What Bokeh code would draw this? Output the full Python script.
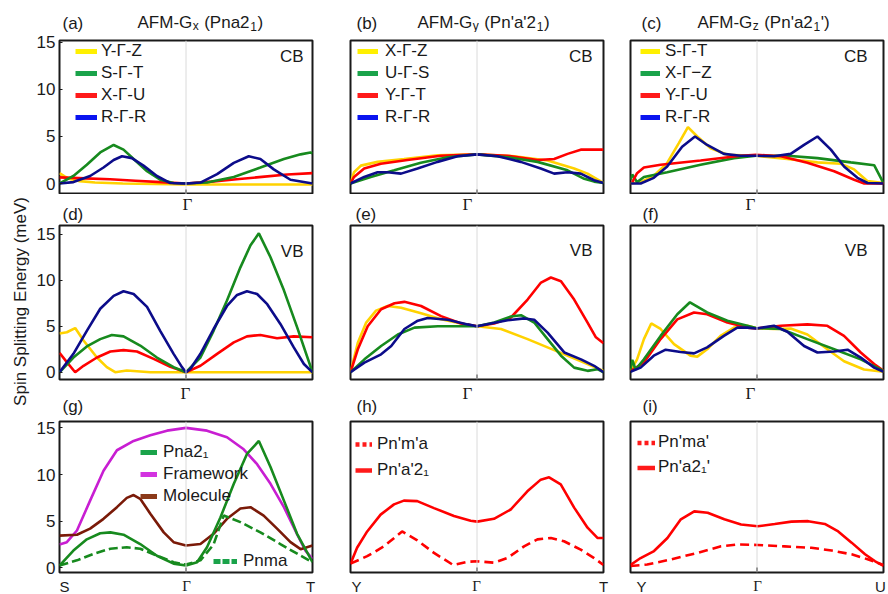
import numpy as np
from bokeh.plotting import figure
from bokeh.models import Range1d, FixedTicker, Label, Legend, LegendItem, Span
from bokeh.layouts import row, column
from bokeh.embed import file_html
from bokeh.resources import INLINE

FONT = "Liberation Sans"
SERIF = "Liberation Serif"
INK = "#1a1a1a"

# ---------------- data (x = position along the k-path, 0..1, Gamma at 0.5) -------------
# (a) AFM-Gx, CB
a_yz_x = [0, 0.02, 0.045, 0.08, 0.14, 0.25, 0.5, 0.75, 1.0]
a_yz_y = [1.1, 0.75, 0.45, 0.25, 0.1, 0.0, -0.1, -0.1, -0.1]
a_st_x = [0, 0.055, 0.108, 0.161, 0.214, 0.253, 0.293, 0.346, 0.398, 0.451, 0.5, 0.583, 0.689, 0.794, 0.887, 0.953, 0.992, 1.0]
a_st_y = [0, 0.8, 2.0, 3.3, 4.1, 3.6, 2.6, 1.3, 0.4, 0.05, 0, 0.1, 0.7, 1.7, 2.6, 3.1, 3.3, 3.2]
a_xu_x = [0, 0.1, 0.2, 0.3, 0.4, 0.5, 0.6, 0.7, 0.8, 0.9, 1.0]
a_xu_y = [0.65, 0.55, 0.45, 0.3, 0.15, 0.0, 0.2, 0.45, 0.7, 0.95, 1.1]
a_rr_x = [0, 0.055, 0.121, 0.174, 0.214, 0.247, 0.286, 0.332, 0.385, 0.438, 0.5, 0.557, 0.623, 0.689, 0.748, 0.794, 0.847, 0.913, 1.0]
a_rr_y = [0, 0.15, 0.8, 1.7, 2.5, 2.9, 2.7, 1.9, 0.8, 0.05, 0, 0.1, 1.0, 2.2, 2.9, 2.6, 1.5, 0.4, 0]

# (b) AFM-Gy, CB
b_xz_x = [0, 0.014, 0.041, 0.107, 0.212, 0.344, 0.5, 0.647, 0.779, 0.884, 0.937, 1.0]
b_xz_y = [0, 1.2, 1.9, 2.3, 2.6, 3.0, 3.1, 2.9, 2.45, 1.6, 1.05, 0.05]
b_us_x = [0, 0.08, 0.173, 0.278, 0.383, 0.5, 0.62, 0.739, 0.858, 0.924, 0.963, 1.0]
b_us_y = [0, 0.7, 1.4, 2.2, 2.8, 3.1, 2.8, 2.3, 1.4, 0.5, 0.2, 0.05]
b_yt_x = [0, 0.014, 0.054, 0.12, 0.225, 0.357, 0.5, 0.62, 0.739, 0.805, 0.858, 0.91, 1.0]
b_yt_y = [0, 0.7, 1.6, 2.1, 2.5, 2.95, 3.1, 2.95, 2.5, 2.6, 3.15, 3.6, 3.6]
b_rr_x = [0, 0.054, 0.107, 0.146, 0.2, 0.265, 0.344, 0.423, 0.5, 0.581, 0.673, 0.752, 0.805, 0.858, 0.91, 0.963, 1.0]
b_rr_y = [0, 0.7, 1.2, 1.2, 1.05, 1.6, 2.3, 2.9, 3.1, 2.9, 2.3, 1.6, 1.05, 1.2, 1.05, 0.35, 0.05]

# (c) AFM-Gz, CB
c_st_x = [0, 0.04, 0.092, 0.145, 0.191, 0.227, 0.264, 0.317, 0.383, 0.496, 0.62, 0.739, 0.831, 0.884, 0.937, 1.0]
c_st_y = [0, 0.15, 0.8, 2.2, 4.3, 6.0, 5.0, 3.75, 3.05, 2.95, 2.6, 2.25, 2.1, 1.5, 0.25, 0.05]
c_xz_x = [0, 0.007, 0.026, 0.053, 0.145, 0.277, 0.409, 0.496, 0.62, 0.739, 0.871, 0.963, 1.0]
c_xz_y = [0.4, 0.95, 0.15, 0.7, 1.2, 2.0, 2.7, 2.95, 2.95, 2.7, 2.25, 1.95, 0.05]
c_yu_x = [0.007, 0.026, 0.053, 0.119, 0.277, 0.435, 0.496, 0.594, 0.699, 0.805, 0.884, 0.924, 1.0]
c_yu_y = [0.15, 1.1, 1.7, 2.0, 2.45, 2.95, 3.05, 2.9, 2.2, 1.3, 0.4, 0.0, 0.0]
c_rr_x = [0, 0.04, 0.092, 0.145, 0.204, 0.255, 0.303, 0.369, 0.435, 0.496, 0.567, 0.633, 0.686, 0.739, 0.792, 0.844, 0.897, 0.937, 1.0]
c_rr_y = [0, 0, 0.6, 1.8, 3.9, 5.0, 4.1, 3.15, 2.95, 2.95, 2.9, 3.15, 4.1, 5.0, 3.6, 1.8, 0.6, 0.05, 0]

# (d) AFM-Gx, VB
d_yz_x = [0, 0.029, 0.062, 0.095, 0.148, 0.187, 0.22, 0.266, 0.359, 0.5, 0.75, 1.0]
d_yz_y = [4.2, 4.35, 4.8, 3.45, 1.6, 0.55, 0.0, 0.18, 0.0, 0.0, 0.0, 0.0]
d_st_x = [0, 0.055, 0.108, 0.161, 0.207, 0.253, 0.319, 0.385, 0.451, 0.5, 0.557, 0.609, 0.662, 0.715, 0.755, 0.788, 0.834, 0.887, 0.939, 1.0]
d_st_y = [0, 1.6, 2.8, 3.6, 4.05, 3.9, 2.9, 1.6, 0.55, 0, 1.6, 4.5, 7.8, 11.4, 13.8, 15.1, 12.5, 8.9, 4.9, 0]
d_xu_x = [0, 0.029, 0.062, 0.095, 0.148, 0.201, 0.253, 0.306, 0.372, 0.438, 0.5, 0.557, 0.623, 0.689, 0.741, 0.794, 0.86, 0.926, 1.0]
d_xu_y = [2.1, 1.1, 0.0, 0.7, 1.6, 2.25, 2.4, 2.25, 1.45, 0.6, 0, 0.7, 2.0, 3.25, 3.9, 4.05, 3.7, 3.9, 3.8]
d_rr_x = [0, 0.055, 0.108, 0.161, 0.214, 0.253, 0.293, 0.346, 0.398, 0.451, 0.484, 0.5, 0.517, 0.557, 0.609, 0.662, 0.702, 0.741, 0.781, 0.821, 0.873, 0.926, 0.966, 1.0]
d_rr_y = [0, 2.0, 4.5, 6.9, 8.3, 8.8, 8.5, 7.1, 4.5, 2.0, 0.55, 0, 0.36, 2.0, 4.7, 7.2, 8.4, 8.8, 8.5, 7.4, 5.25, 2.7, 0.9, 0]

# (e) AFM-Gy, VB
e_xz_x = [0, 0.029, 0.062, 0.101, 0.147, 0.2, 0.279, 0.358, 0.437, 0.5, 0.595, 0.7, 0.805, 0.911, 1.0]
e_xz_y = [0, 3.2, 5.4, 6.7, 7.2, 7.0, 6.4, 5.75, 5.3, 5.0, 4.7, 3.6, 2.4, 1.2, 0.15]
e_yt_x = [0, 0.029, 0.068, 0.121, 0.174, 0.213, 0.279, 0.358, 0.437, 0.5, 0.568, 0.634, 0.7, 0.753, 0.792, 0.832, 0.884, 0.937, 0.97, 1.0]
e_yt_y = [0, 2.5, 5.0, 6.85, 7.5, 7.65, 7.2, 6.1, 5.3, 5.0, 5.3, 5.95, 7.9, 9.75, 10.3, 9.9, 7.9, 5.4, 3.8, 3.15]
e_us_x = [0, 0.055, 0.121, 0.187, 0.253, 0.345, 0.437, 0.5, 0.568, 0.634, 0.674, 0.726, 0.779, 0.832, 0.884, 0.937, 0.976, 1.0]
e_us_y = [0, 1.4, 2.85, 4.1, 4.85, 5.0, 5.0, 5.0, 5.4, 6.05, 6.2, 5.4, 3.6, 1.8, 0.5, 0.15, 0.33, 0]
e_rr_x = [0, 0.055, 0.121, 0.161, 0.213, 0.266, 0.305, 0.384, 0.463, 0.5, 0.555, 0.621, 0.687, 0.726, 0.779, 0.845, 0.911, 0.963, 1.0]
e_rr_y = [0, 1.05, 1.95, 2.85, 4.7, 5.6, 5.9, 5.7, 5.2, 5.0, 5.3, 5.65, 5.85, 5.7, 4.3, 2.15, 1.4, 0.7, 0]

# (f) AFM-Gz, VB
f_st_x = [0, 0.026, 0.053, 0.082, 0.119, 0.172, 0.237, 0.264, 0.303, 0.356, 0.409, 0.462, 0.496, 0.567, 0.633, 0.699, 0.778, 0.844, 0.923, 1.0]
f_st_y = [0.15, 1.4, 3.6, 5.3, 4.7, 3.05, 1.8, 1.7, 2.5, 3.95, 4.85, 5.05, 4.8, 4.7, 4.75, 4.1, 2.5, 1.2, 0.3, 0.05]
f_xz_x = [0, 0.007, 0.02, 0.053, 0.119, 0.185, 0.235, 0.303, 0.383, 0.462, 0.496, 0.594, 0.699, 0.805, 0.91, 1.0]
f_xz_y = [0.3, 1.35, 0.3, 1.4, 3.95, 6.3, 7.6, 6.5, 5.6, 5.05, 4.8, 4.7, 3.6, 2.5, 1.4, 0.15]
f_yu_x = [0, 0.053, 0.119, 0.185, 0.251, 0.303, 0.383, 0.462, 0.496, 0.594, 0.699, 0.778, 0.844, 0.91, 0.963, 1.0]
f_yu_y = [0.15, 1.05, 3.6, 5.75, 6.5, 6.3, 5.4, 4.85, 4.75, 5.05, 5.2, 5.05, 3.95, 2.15, 0.9, 0.15]
f_rr_x = [0, 0.04, 0.092, 0.139, 0.198, 0.251, 0.303, 0.369, 0.422, 0.462, 0.496, 0.567, 0.62, 0.686, 0.739, 0.805, 0.858, 0.91, 0.963, 1.0]
f_rr_y = [0.05, 0.5, 1.8, 2.45, 2.2, 2.05, 2.7, 3.95, 4.85, 4.85, 4.75, 5.05, 4.4, 2.85, 2.15, 2.25, 2.45, 1.6, 0.5, 0.05]

# (g) S-Gamma-T comparison
g_fw_x = [0, 0.029, 0.069, 0.121, 0.174, 0.227, 0.293, 0.359, 0.425, 0.5, 0.583, 0.662, 0.728, 0.781, 0.834, 0.887, 0.939, 0.972, 1.0]
g_fw_y = [2.5, 2.75, 4.0, 7.2, 10.4, 12.6, 13.6, 14.2, 14.7, 15.0, 14.7, 14.0, 12.7, 11.1, 9.0, 6.5, 3.6, 1.85, 0.95]
g_mol_x = [0, 0.069, 0.121, 0.174, 0.227, 0.266, 0.293, 0.319, 0.359, 0.412, 0.451, 0.5, 0.557, 0.609, 0.662, 0.715, 0.755, 0.807, 0.86, 0.913, 0.953, 1.0]
g_mol_y = [3.45, 3.55, 4.2, 5.25, 6.5, 7.5, 7.8, 7.4, 5.8, 3.8, 2.75, 2.4, 2.55, 3.65, 5.25, 6.35, 6.5, 5.6, 4.2, 2.75, 2.0, 2.4]
g_pna_x = [0, 0.055, 0.108, 0.161, 0.201, 0.253, 0.319, 0.385, 0.451, 0.5, 0.544, 0.583, 0.636, 0.689, 0.741, 0.788, 0.834, 0.887, 0.939, 1.0]
g_pna_y = [0.25, 1.85, 3.05, 3.7, 3.8, 3.55, 2.55, 1.3, 0.45, 0.25, 0.6, 2.2, 5.4, 9.0, 12.2, 13.6, 10.8, 7.2, 3.65, 0.6]
g_pnma_x = [0, 0.069, 0.135, 0.201, 0.266, 0.319, 0.385, 0.451, 0.5, 0.557, 0.609, 0.649, 0.715, 0.794, 0.873, 0.953, 1.0]
g_pnma_y = [0.25, 0.8, 1.5, 2.05, 2.2, 2.05, 1.3, 0.6, 0.35, 0.8, 2.5, 5.6, 4.9, 3.8, 2.55, 1.3, 0.6]

# (h) Y-Gamma-T
h_sol_x = [0, 0.026, 0.066, 0.119, 0.172, 0.211, 0.264, 0.33, 0.409, 0.475, 0.501, 0.567, 0.633, 0.699, 0.752, 0.785, 0.831, 0.884, 0.937, 0.976, 1.0]
h_sol_y = [0.45, 2.15, 3.9, 5.7, 6.8, 7.2, 7.15, 6.4, 5.55, 5.05, 4.95, 5.25, 6.25, 8.2, 9.45, 9.7, 8.95, 6.45, 4.3, 3.2, 3.2]
h_dsh_x = [0, 0.066, 0.132, 0.204, 0.264, 0.33, 0.406, 0.462, 0.501, 0.567, 0.62, 0.686, 0.739, 0.792, 0.844, 0.91, 0.963, 1.0]
h_dsh_y = [0.45, 1.25, 2.3, 3.9, 2.95, 1.6, 0.3, 0.65, 0.7, 0.55, 1.05, 2.3, 3.05, 3.2, 2.85, 1.95, 1.05, 0.3]

# (i) Y-Gamma-U
i_sol_x = [0, 0.04, 0.093, 0.146, 0.199, 0.252, 0.305, 0.371, 0.437, 0.503, 0.57, 0.636, 0.702, 0.768, 0.821, 0.874, 0.927, 0.967, 1.0]
i_sol_y = [0.3, 1.05, 1.8, 3.2, 5.2, 6.05, 5.9, 5.2, 4.65, 4.45, 4.7, 4.95, 5.0, 4.7, 3.9, 2.7, 1.45, 0.7, 0.2]
i_dsh_x = [0, 0.066, 0.159, 0.265, 0.358, 0.424, 0.503, 0.609, 0.715, 0.795, 0.874, 0.94, 1.0]
i_dsh_y = [0.2, 0.35, 0.9, 1.6, 2.3, 2.5, 2.45, 2.3, 2.15, 1.85, 1.45, 0.9, 0.3]

y_ticks = [0, 5, 10, 15]
gamma_label = "Γ"
gamma_pos = 0.5
path_ends = [("S", "T"), ("Y", "T"), ("Y", "U")]

# ---------------- styling -------------
YEL, GRN, RED, BLU = "#FFD200", "#178A1E", "#FF0000", "#0C0C8A"
L_YEL, L_GRN, L_RED, L_BLU = "#FFF000", "#1AA34A", "#FF1A1A", "#0A14F0"
PUR, BRN = "#C81ED2", "#7A1A08"
L_PUR, L_BRN = "#D333E0", "#8B3A1A"

COL_FW = [253, 253, 253]
COL_BL = [29, 26, 18]
COL_BR = [12, 9, 3]
COL_LEFT = [59, 350, 630]
ROW_FH = [154, 154, 151]
ROW_TOP = [40, 225, 421]
ROW_BT = [8, 1, 4]
ROW_BB = [0, 3, 5]
ROW_YR = [(-1.17, 15.21), (-0.79, 15.95), (-0.5, 15.68)]
STRIP_X0, STRIP_W = 30, 856
PAGE_H = 594

W = {'A': .667, 'F': .611, 'M': .833, '-': .333, 'G': .778, ' ': .278, '(': .333, ')': .333,
     'P': .667, 'n': .556, 'a': .556, '2': .556, '1': .556, "'": .191, 'x': .5, 'y': .5, 'z': .5}


def tw(s, size):
    return sum(W.get(ch, 0.556) for ch in s) * size


def panel(r, c):
    p = figure(frame_width=COL_FW[c], frame_height=ROW_FH[r],
               min_border_left=COL_BL[c], min_border_right=COL_BR[c],
               min_border_top=ROW_BT[r], min_border_bottom=ROW_BB[r],
               x_range=Range1d(0, 1), y_range=Range1d(*ROW_YR[r]),
               x_axis_location=None, y_axis_location="left" if c == 0 else None,
               output_backend="svg", toolbar_location=None, title=None)
    p.background_fill_color = "white"
    p.border_fill_color = "white"
    p.outline_line_color = INK
    p.outline_line_width = 2
    p.grid.visible = False
    p.add_layout(Span(location=gamma_pos, dimension="height", line_color="#dadada", line_width=1))
    # small inward tick mark at Gamma on the bottom edge
    p.ray(x=[gamma_pos], y=[ROW_YR[r][0]], length=5, length_units="screen", angle=90,
          angle_units="deg", line_color=INK, line_width=1.5)
    if c == 0:
        ya = p.yaxis[0]
        ya.ticker = FixedTicker(ticks=y_ticks)
        ya.axis_line_color = None
        ya.minor_tick_in = 0
        ya.minor_tick_out = 0
        ya.major_tick_in = 3
        ya.major_tick_out = 0
        ya.major_tick_line_color = INK
        ya.major_label_standoff = 4
        ya.major_label_text_font = FONT
        ya.major_label_text_font_size = "17px"
        ya.major_label_text_color = INK
    return p


def inlabel(p, r, c, page_x, page_y, text, align="right", baseline="middle"):
    fb = ROW_TOP[r] + ROW_FH[r]
    p.add_layout(Label(x=page_x - COL_LEFT[c], y=fb - page_y, x_units="screen", y_units="screen",
                       text=text, text_font=FONT, text_font_size="17px",
                       text_align=align, text_baseline=baseline, text_color=INK))


def strip(top, bottom):
    s = figure(width=STRIP_W, height=bottom - top, x_range=Range1d(STRIP_X0, STRIP_X0 + STRIP_W),
               y_range=Range1d(0, bottom - top), x_axis_type=None, y_axis_type=None,
               min_border=0, output_backend="svg", toolbar_location=None, title=None)
    s.outline_line_color = None
    s.background_fill_color = "white"
    return s


def stext(s, bottom, x, y, text, size=17, font=FONT, align="left"):
    # y is the page position of the text's vertical middle
    s.add_layout(Label(x=x, y=bottom - y, text=text, text_font=font, text_font_size=f"{size}px",
                       text_align=align, text_baseline="middle", text_color=INK))


def title(s, bottom, x, y, pieces):
    for txt, sub in pieces:
        size = 12 if sub else 17
        lead = len(txt) - len(txt.lstrip(" "))
        x += lead * W[" "] * size
        txt = txt.lstrip(" ")
        stext(s, bottom, x, y + (3.5 if sub else 0), txt, size=size)
        x += tw(txt, size) + 0.6


def legend(p, entries, loc, gw, ih, standoff, lw=5):
    items = []
    for text, color, dash in entries:
        rr = p.line(x=np.array([np.nan]), y=np.array([np.nan]), line_color=color,
                    line_width=lw, line_dash=dash)
        items.append(LegendItem(label=text, renderers=[rr]))
    lg = Legend(items=items, location=loc, padding=0, margin=0, spacing=0,
                glyph_width=gw, glyph_height=ih, label_height=ih, label_standoff=standoff,
                label_text_font=FONT, label_text_font_size="17px", label_text_color=INK,
                background_fill_alpha=0, border_line_alpha=0)
    p.add_layout(lg)


def curve(p, x, y, color, dash="solid", lw=2.6):
    p.line(x=x, y=y, line_color=color, line_width=lw, line_dash=dash)


# ---------------- panels -------------
pa = panel(0, 0)
curve(pa, a_yz_x, a_yz_y, YEL)
curve(pa, a_xu_x, a_xu_y, RED)
curve(pa, a_st_x, a_st_y, GRN)
curve(pa, a_rr_x, a_rr_y, BLU)
legend(pa, [("Y-Γ-Z", L_YEL, "solid"), ("S-Γ-T", L_GRN, "solid"),
            ("X-Γ-U", L_RED, "solid"), ("R-Γ-R", L_BLU, "solid")], (16, 66), 22, 22, 4)
inlabel(pa, 0, 0, 303, 56, "CB")

pb = panel(0, 1)
curve(pb, b_xz_x, b_xz_y, YEL)
curve(pb, b_yt_x, b_yt_y, RED)
curve(pb, b_us_x, b_us_y, GRN)
curve(pb, b_rr_x, b_rr_y, BLU)
legend(pb, [("X-Γ-Z", L_YEL, "solid"), ("U-Γ-S", L_GRN, "solid"),
            ("Y-Γ-T", L_RED, "solid"), ("R-Γ-R", L_BLU, "solid")], (7, 66), 21, 22, 7)
inlabel(pb, 0, 1, 592, 56, "CB")

pc = panel(0, 2)
curve(pc, c_st_x, c_st_y, YEL)
curve(pc, c_xz_x, c_xz_y, GRN)
curve(pc, c_yu_x, c_yu_y, RED)
curve(pc, c_rr_x, c_rr_y, BLU)
legend(pc, [("S-Γ-T", L_YEL, "solid"), ("X-Γ−Z", L_GRN, "solid"),
            ("Y-Γ-U", L_RED, "solid"), ("R-Γ-R", L_BLU, "solid")], (10, 66), 20, 22, 5)
inlabel(pc, 0, 2, 867, 56, "CB")

pd = panel(1, 0)
curve(pd, d_yz_x, d_yz_y, YEL)
curve(pd, d_xu_x, d_xu_y, RED)
curve(pd, d_st_x, d_st_y, GRN)
curve(pd, d_rr_x, d_rr_y, BLU)
inlabel(pd, 1, 0, 303, 251, "VB")

pe = panel(1, 1)
curve(pe, e_xz_x, e_xz_y, YEL)
curve(pe, e_yt_x, e_yt_y, RED)
curve(pe, e_us_x, e_us_y, GRN)
curve(pe, e_rr_x, e_rr_y, BLU)
inlabel(pe, 1, 1, 592, 250, "VB")

pf = panel(1, 2)
curve(pf, f_st_x, f_st_y, YEL)
curve(pf, f_yu_x, f_yu_y, RED)
curve(pf, f_xz_x, f_xz_y, GRN)
curve(pf, f_rr_x, f_rr_y, BLU)
inlabel(pf, 1, 2, 867, 250, "VB")

pg = panel(2, 0)
curve(pg, g_fw_x, g_fw_y, PUR)
curve(pg, g_mol_x, g_mol_y, BRN)
curve(pg, g_pnma_x, g_pnma_y, GRN, dash="9 4")
curve(pg, g_pna_x, g_pna_y, GRN)
legend(pg, [("Pna2₁", L_GRN, "solid"), ("Framework", L_PUR, "solid"),
            ("Molecule", L_BRN, "solid")], (81, 65), 17, 22, 6)
legend(pg, [("Pnma", L_GRN, "7 2")], (154, 0), 24, 22, 6)

ph = panel(2, 1)
curve(ph, h_dsh_x, h_dsh_y, RED, dash="9 5")
curve(ph, h_sol_x, h_sol_y, RED)
legend(ph, [("Pn'm'a", L_RED, "4 3"), ("Pn'a'2₁", L_RED, "solid")], (5, 89), 17, 26, 5, lw=4.5)

pi_ = panel(2, 2)
curve(pi_, i_dsh_x, i_dsh_y, RED, dash="9 5")
curve(pi_, i_sol_x, i_sol_y, RED)
legend(pi_, [("Pn'ma'", L_RED, "4 3"), ("Pn'a2₁'", L_RED, "solid")], (7, 92.5), 18, 25, 3, lw=4.5)

# ---------------- text strips (titles, panel letters, k-point labels) -------------
S1 = (0, ROW_TOP[0] - ROW_BT[0])                                   # 0 .. 32
S2 = (ROW_TOP[0] + ROW_FH[0] + ROW_BB[0], ROW_TOP[1] - ROW_BT[1])  # 194 .. 224
S3 = (ROW_TOP[1] + ROW_FH[1] + ROW_BB[1], ROW_TOP[2] - ROW_BT[2])  # 382 .. 417
S4 = (ROW_TOP[2] + ROW_FH[2] + ROW_BB[2], PAGE_H)                  # 577 .. 594

s1 = strip(*S1)
b1 = S1[1]
stext(s1, b1, 62, 22.5, "(a)")
title(s1, b1, 137, 22, [("AFM-G", False), ("x", True), (" (Pna2", False), ("1", True), (")", False)])
stext(s1, b1, 356, 22.5, "(b)")
title(s1, b1, 417, 22, [("AFM-G", False), ("y", True), (" (Pn'a'2", False), ("1", True), (")", False)])
stext(s1, b1, 641, 22.5, "(c)")
title(s1, b1, 697, 22, [("AFM-G", False), ("z", True), (" (Pn'a2", False), ("1", True), ("')", False)])

s2 = strip(*S2)
b2 = S2[1]
for gx in (187, 467, 750):
    stext(s2, b2, gx, 204, gamma_label, size=17, font=SERIF, align="center")
stext(s2, b2, 62, 213.5, "(d)")
stext(s2, b2, 355, 213.5, "(e)")
stext(s2, b2, 642, 213.5, "(f)")

s3 = strip(*S3)
b3 = S3[1]
for gx in (185, 467, 750):
    stext(s3, b3, gx, 393, gamma_label, size=17, font=SERIF, align="center")
stext(s3, b3, 62, 406, "(g)")
stext(s3, b3, 356, 406, "(h)")
stext(s3, b3, 642, 406, "(i)")

s4 = strip(*S4)
b4 = S4[1]
for (lx, gx, rx), (left_k, right_k) in zip([(64, 186, 310), (356, 476, 603), (641, 757, 880)], path_ends):
    stext(s4, b4, lx, 585.5, left_k, size=15, align="center")
    stext(s4, b4, gx, 585.5, gamma_label, size=15, font=SERIF, align="center")
    stext(s4, b4, rx, 585.5, right_k, size=15, align="center")

# shared y-axis title
ylab = figure(width=30, height=PAGE_H, x_range=Range1d(0, 30), y_range=Range1d(0, PAGE_H),
              x_axis_type=None, y_axis_type=None, min_border=0,
              output_backend="svg", toolbar_location=None, title=None)
ylab.outline_line_color = None
ylab.add_layout(Label(x=19.5, y=PAGE_H - 301, text="Spin Splitting Energy (meV)",
                      angle=np.pi / 2, text_align="center", text_baseline="middle",
                      text_font=FONT, text_font_size="17px", text_color=INK))

layout = row(ylab, column(s1, row(pa, pb, pc), s2, row(pd, pe, pf), s3, row(pg, ph, pi_), s4))

with open("out.html", "w") as fh:
    fh.write(file_html(layout, INLINE))
